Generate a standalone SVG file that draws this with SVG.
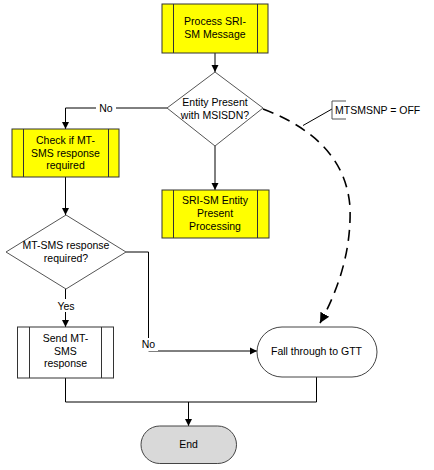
<svg xmlns="http://www.w3.org/2000/svg" width="434" height="470" viewBox="0 0 434 470">
<style>
.box{fill:#ffff00;stroke:#333;stroke-width:1}
.wbox{fill:#fff;stroke:#333;stroke-width:1}
.bar{stroke:#333;stroke-width:1}
.dia{fill:#fff;stroke:#555;stroke-width:1}
.term{fill:#fff;stroke:#444;stroke-width:1}
.endt{fill:#d9d9d9;stroke:#444;stroke-width:1}
.ln{fill:none;stroke:#000;stroke-width:1}
.dash{fill:none;stroke:#000;stroke-width:1.6;stroke-dasharray:11 7}
text{font-family:"Liberation Sans",Arial,sans-serif;font-size:10.5px;fill:#000;text-anchor:middle}
.lbl{fill:#fff}
</style>
<defs>
<marker id="arr" markerWidth="8" markerHeight="8" refX="7" refY="4" orient="auto" markerUnits="userSpaceOnUse">
<path d="M0,0.5 L7,4 L0,7.5 Z" fill="#000"/>
</marker>
<marker id="arrB" markerWidth="12" markerHeight="12" refX="10" refY="6" orient="auto" markerUnits="userSpaceOnUse">
<path d="M0,1 L10,6 L0,11 Z" fill="#000"/>
</marker>
</defs>
<g id="connectors">
<path class="ln" d="M215,53 V72" marker-end="url(#arr)"/>
<path class="ln" d="M167,108 H65.5 V129" marker-end="url(#arr)"/>
<path class="ln" d="M215,146 V190" marker-end="url(#arr)"/>
<path class="ln" d="M65.5,177 V215" marker-end="url(#arr)"/>
<path class="ln" d="M65.5,289 V327" marker-end="url(#arr)"/>
<path class="ln" d="M126,252 H148.5 V351 H257" marker-end="url(#arr)"/>
<path class="ln" d="M65.5,378 V402 H316.5 V377"/>
<path class="ln" d="M188.5,402 V426" marker-end="url(#arr)"/>
<path class="dash" d="M263,109 Q345,140 350,207 Q352,265 320,323" marker-end="url(#arrB)"/>
<path class="ln" d="M303,125.5 L332,109" stroke="#555"/>
<rect x="96" y="101" width="20" height="13" class="lbl"/>
<text x="106" y="111.5">No</text>
<rect x="56" y="299" width="20" height="13" class="lbl"/>
<text x="66" y="309.5">Yes</text>
<rect x="139" y="338" width="19" height="13" class="lbl"/>
<text x="148.5" y="348">No</text>
</g>
<g id="note">
<path d="M346,101 H332 V119 H346" fill="none" stroke="#555"/>
<text x="335" y="114" style="text-anchor:start">MTSMSNP = OFF</text>
</g>
<g id="process-sri">
<rect class="box" x="162" y="4" width="106" height="49"/>
<path class="bar" d="M173.5,4 V53 M257.5,4 V53"/>
<text x="215" y="25">Process SRI-</text>
<text x="215" y="38">SM Message</text>
</g>
<g id="entity-present">
<polygon class="dia" points="215,72 263,108 215,146 167,108"/>
<text x="215" y="106">Entity Present</text>
<text x="215" y="119">with MSISDN?</text>
</g>
<g id="check-mt-sms">
<rect class="box" x="12" y="129" width="107" height="48"/>
<path class="bar" d="M23.5,129 V177 M108.5,129 V177"/>
<text x="65.5" y="143.5">Check if MT-</text>
<text x="65.5" y="156.5">SMS response</text>
<text x="65.5" y="169">required</text>
</g>
<g id="sri-entity-processing">
<rect class="box" x="162" y="190" width="107" height="48"/>
<path class="bar" d="M173.5,190 V238 M257.5,190 V238"/>
<text x="215" y="204">SRI-SM Entity</text>
<text x="215" y="217">Present</text>
<text x="215" y="229.5">Processing</text>
</g>
<g id="mt-sms-required">
<polygon class="dia" points="66,215 126,252 66,289 6,252"/>
<text x="66" y="248.5">MT-SMS response</text>
<text x="66" y="261.5">required?</text>
</g>
<g id="send-mt-sms">
<rect class="wbox" x="17.5" y="327" width="96" height="51"/>
<path class="bar" d="M29.5,327 V378 M101.5,327 V378"/>
<text x="65.5" y="341.5">Send MT-</text>
<text x="65.5" y="354.5">SMS</text>
<text x="65.5" y="367">response</text>
</g>
<g id="fall-through">
<rect class="term" x="257" y="327" width="120" height="50" rx="25" ry="25"/>
<text x="316.5" y="355">Fall through to GTT</text>
</g>
<g id="end">
<rect class="endt" x="141" y="426" width="95.5" height="37.5" rx="18.75" ry="18.75"/>
<text x="188.5" y="448">End</text>
</g>
</svg>
